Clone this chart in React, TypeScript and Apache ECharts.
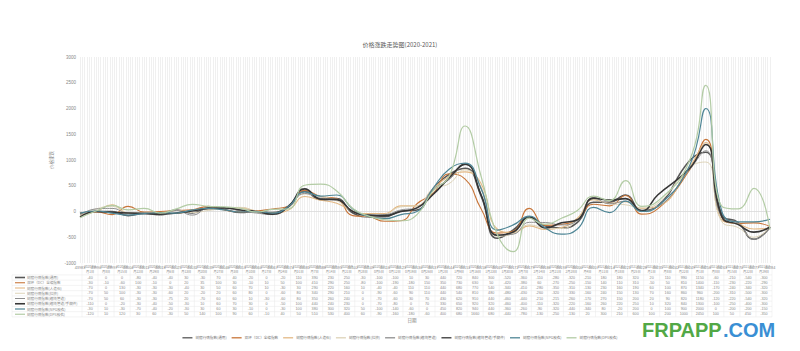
import React, { useEffect, useRef } from "react";
import * as echarts from "echarts";

const BASE = 43983;
const dates = [
  43983, 43990, 43997, 44004, 44011, 44018, 44025, 44032, 44039, 44046, 44053,
  44060, 44067, 44074, 44081, 44088, 44095, 44102, 44109, 44116, 44123, 44130,
  44137, 44144, 44151, 44158, 44165, 44172, 44179, 44186, 44193, 44200, 44207,
  44214, 44221, 44228, 44235, 44249, 44256, 44263, 44270, 44277, 44284,
];

const seriesNames = [
  "树脂行情指数(通用)",
  "双环（DC）全编指数",
  "树脂行情指数(人造石)",
  "树脂行情指数(拉挤)",
  "树脂行情指数(缠绕管道)",
  "树脂行情指数(缠绕管道/手糊件)",
  "树脂行情指数(NPG胶衣)",
  "树脂行情指数(DPS胶衣)",
];

const s1 = [-40, 0, 0, -80, -40, -40, 30, -30, 70, 40, -20, 0, -20, 110, 390, 230, 250, -30, -100, -100, 10, 30, 440, 720, 840, 300, -520, -360, -110, -280, -320, -210, 180, 180, 320, 20, 110, 990, 1150, -60, -210, -540, -300];
const s2 = [-30, -10, -60, 100, -10, 0, 20, 35, 100, 30, -10, 10, 50, 100, 410, 290, 250, -80, -100, -190, -180, 150, 350, 730, 630, 50, -420, -380, 60, -270, -250, -150, 140, 110, 310, -50, 50, 810, 1400, -110, -230, -220, -290];
const s3 = [-70, 0, 130, -30, -30, -30, -40, 30, 50, 60, 70, 10, -30, 30, 290, 220, 160, 10, -40, -40, 110, 110, 440, 680, 770, 540, -340, -410, -280, -350, -310, -130, 230, 160, 190, 60, 100, 870, 1340, -170, -240, -340, -320];
const s4 = [-70, 50, 100, -30, -30, -60, 20, -20, 20, 60, 80, 0, -60, 80, 340, 290, 210, 0, -90, -60, 90, 110, 440, 540, 810, 480, -480, -430, -260, -320, -330, -160, 240, 150, 130, 70, 160, 860, 960, -200, -310, -500, -300];
const s5 = [-70, 50, 60, -30, -30, -75, 20, -70, 60, 60, 10, -30, -60, 80, 350, 260, 240, 0, -70, -60, 30, 70, 430, 620, 910, 440, -460, -440, -210, -215, -260, -170, 270, 150, 200, 20, 90, 820, 1180, -120, -220, -540, -320];
const s6 = [-110, 0, -20, -30, -40, -50, -30, 10, 60, 70, 30, 0, -50, 100, 440, 240, 230, 0, -70, -80, 0, 70, 330, 650, 920, 320, -460, -400, -110, -320, -220, -160, 260, 220, 250, 10, 320, 840, 1300, -100, -250, -400, -300];
const s7 = [-30, 10, -30, -70, -40, -20, -30, 30, 60, 30, -10, 0, -30, 100, 380, 300, 320, 50, -100, -140, -60, 0, 450, 820, 940, 440, -360, -260, -90, -320, -440, -340, 80, -20, 200, 0, 100, 900, 2000, 0, -200, -200, -150];
const s8 = [-120, 10, 120, 30, 60, -30, 50, 140, 100, 90, 60, -10, 40, 50, 510, 530, 400, 60, -90, -160, -180, -60, 400, 680, 1660, 680, -440, -780, -130, -250, -130, 20, 300, 210, 600, 100, 200, 1000, 2450, 100, 50, 450, -350];

const seriesValues = [s1, s2, s3, s4, s5, s6, s7, s8];

const yTicks = { min: -1000, max: 3000, interval: 500 };

const styles = [
  { color: "#575757", width: 1.6 },
  { color: "#c8763a", width: 1.1 },
  { color: "#e3b985", width: 1.1 },
  { color: "#ddd3b8", width: 1 },
  { color: "#8e8e8e", width: 1 },
  { color: "#363636", width: 1.6 },
  { color: "#4f8696", width: 1.2 },
  { color: "#b3cca5", width: 1.2 },
];

function serialToParts(serial: number) {
  const d = new Date((serial - 25569) * 86400000);
  return { y: d.getUTCFullYear(), m: d.getUTCMonth() + 1, d: d.getUTCDate() };
}

export default function App() {
  const ref = useRef<HTMLDivElement>(null);
  useEffect(() => {
    const chart = echarts.init(ref.current!, null, { renderer: "svg" });

    const tLeft = 82;
    const tRight = 772;
    const colW = (tRight - tLeft) / dates.length;
    const headY = 268.8;
    const rowY0 = 277.5;
    const rowH = 5.25;
    const tableTop = 263;
    const tableBottom = rowY0 + rowH * 7 + rowH / 2;

    const graphics: any[] = [];
    for (let i = 0; i <= dates.length; i++) {
      const x = tLeft + colW * i;
      graphics.push({
        type: "line",
        shape: { x1: x, y1: tableTop, x2: x, y2: tableBottom },
        style: { stroke: "#e8e8e8", lineWidth: 0.5 },
        silent: true,
      });
    }
    for (let r = 0; r <= 8; r++) {
      const y = rowY0 - rowH / 2 + rowH * r;
      graphics.push({
        type: "line",
        shape: { x1: 12, y1: y, x2: tRight, y2: y },
        style: { stroke: "#e8e8e8", lineWidth: 0.5 },
        silent: true,
      });
    }
    graphics.push({
      type: "line",
      shape: { x1: 12, y1: rowY0 - rowH / 2, x2: 12, y2: tableBottom },
      style: { stroke: "#e8e8e8", lineWidth: 0.5 },
      silent: true,
    });
    dates.forEach((dt, i) => {
      const p = serialToParts(dt);
      const full = `${p.y}年${p.m}月${p.d}日`;
      const cx = tLeft + colW * (i + 0.5);
      graphics.push({
        type: "text",
        x: cx,
        y: headY,
        style: {
          text: full.slice(0, 6) + "\n" + full.slice(6),
          fontSize: 3.2,
          lineHeight: 5.4,
          fill: "#888",
          align: "center",
          verticalAlign: "middle",
          fontFamily: "Noto Sans CJK SC",
        },
        silent: true,
      });
    });
    seriesValues.forEach((vals, r) => {
      const y = rowY0 + rowH * r;
      graphics.push({
        type: "line",
        shape: { x1: 15, y1: y, x2: 25, y2: y },
        style: { stroke: styles[r].color, lineWidth: styles[r].width },
        silent: true,
      });
      graphics.push({
        type: "text",
        x: 27,
        y,
        style: { text: seriesNames[r], fontSize: 3.6, fill: "#888", align: "left", verticalAlign: "middle", fontFamily: "Noto Sans CJK SC" },
        silent: true,
      });
      vals.forEach((v, i) => {
        graphics.push({
          type: "text",
          x: tLeft + colW * (i + 0.5),
          y,
          style: { text: String(v), fontSize: 3.7, fill: "#888", align: "center", verticalAlign: "middle", fontFamily: "Liberation Sans" },
          silent: true,
        });
      });
    });
    graphics.push({
      type: "text",
      x: 412,
      y: 320,
      style: { text: "日期", fontSize: 4.5, fill: "#777", align: "center", verticalAlign: "middle", fontFamily: "Noto Sans CJK SC" },
      silent: true,
    });
    graphics.push({
      type: "text",
      x: 642,
      y: 330,
      style: { text: "FRPAPP", fontSize: 20, fontWeight: "bold", fill: "#52a846", align: "left", verticalAlign: "middle", fontFamily: "Liberation Sans" },
      silent: true,
    });
    graphics.push({
      type: "text",
      x: 723,
      y: 330,
      style: { text: ".COM", fontSize: 20, fontWeight: "bold", fill: "#3a8fd4", align: "left", verticalAlign: "middle", fontFamily: "Liberation Sans" },
      silent: true,
    });

    const option: any = {
      animation: false,
      backgroundColor: "#ffffff",
      title: {
        text: "价格涨跌走势图(2020-2021)",
        left: "center",
        top: 36,
        textStyle: { fontSize: 6, color: "#595959", fontWeight: "normal", fontFamily: "Noto Sans CJK SC" },
      },
      legend: {
        data: seriesNames,
        top: 331,
        left: "center",
        icon: "rect",
        itemWidth: 10,
        itemHeight: 1.3,
        itemGap: 5,
        textStyle: { fontSize: 3.6, color: "#777", fontFamily: "Noto Sans CJK SC", padding: [0, 0, 0, -2] },
      },
      grid: { left: 80, right: 30, top: 57, bottom: 88, containLabel: false },
      xAxis: {
        type: "value",
        min: 0,
        max: dates[dates.length - 1] - BASE,
        interval: 7,
        axisLine: { onZero: true, lineStyle: { color: "#d9d9d9", width: 0.8 } },
        axisTick: { show: false },
        axisLabel: {
          fontSize: 3.8,
          color: "#888",
          margin: 3,
          showMinLabel: true,
          showMaxLabel: true,
          formatter: (v: number) => String(BASE + v),
          fontFamily: "Liberation Sans",
        },
        splitLine: { show: true, lineStyle: { color: "#ececec", width: 0.8 } },
        minorTick: { show: false, splitNumber: 7 },
        minorSplitLine: { show: true, lineStyle: { color: "#ececec", width: 0.8 } },
      },
      yAxis: {
        type: "value",
        min: yTicks.min,
        max: yTicks.max,
        interval: yTicks.interval,
        name: "价格涨跌",
        nameLocation: "middle",
        nameGap: 26,
        nameRotate: 90,
        nameTextStyle: { fontSize: 4.5, color: "#888", fontFamily: "Noto Sans CJK SC" },
        axisLine: { show: false },
        axisTick: { show: false },
        splitLine: { show: false },
        axisLabel: {
          fontSize: 4.5,
          color: "#888",
          margin: 4,
          fontFamily: "Liberation Sans",
          formatter: (v: number) => String(v),
        },
      },
      series: seriesValues.map((vals, r) => ({
        name: seriesNames[r],
        type: "line",
        smooth: 0.5,
        symbol: "none",
        lineStyle: { color: styles[r].color, width: styles[r].width },
        itemStyle: { color: styles[r].color },
        data: vals.map((v, i) => [dates[i] - BASE, v]),
      })),
      graphic: graphics,
    };
    chart.setOption(option);
    return () => chart.dispose();
  }, []);
  return (
    <div
      ref={ref}
      style={{ position: "fixed", left: 0, top: 0, width: 800, height: 351, background: "#fff" }}
    />
  );
}
